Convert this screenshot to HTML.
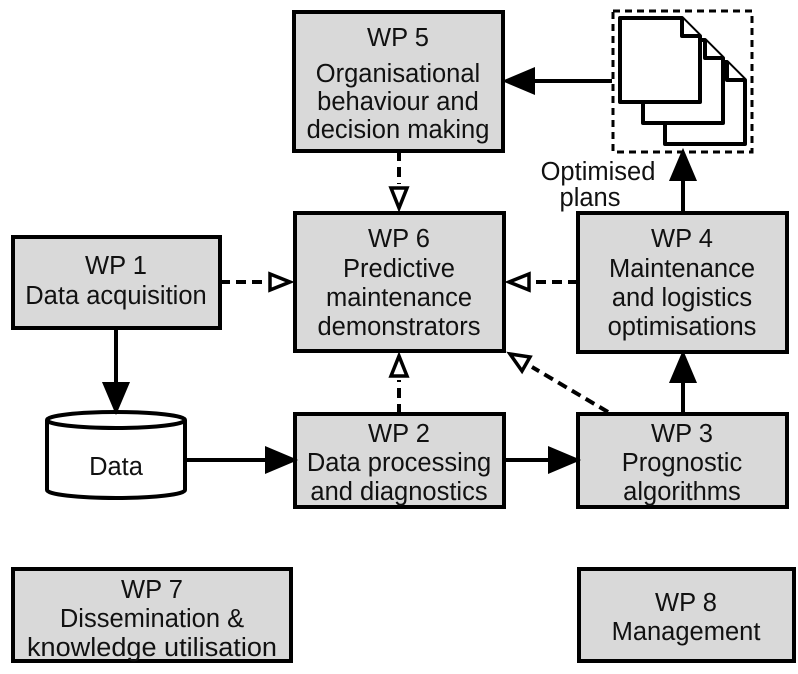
<!DOCTYPE html>
<html><head><meta charset="utf-8"><style>html,body{margin:0;padding:0;background:#fff}svg{display:block}</style></head><body>
<svg width="798" height="674" viewBox="0 0 798 674" xmlns="http://www.w3.org/2000/svg" font-family="Liberation Sans, sans-serif" font-size="25.5" text-anchor="middle">
<g stroke="#000" stroke-width="4" fill="#d9d9d9">
<rect x="13" y="237" width="207" height="91"/>
<rect x="294" y="12" width="209" height="139"/>
<rect x="295" y="213" width="209" height="138"/>
<rect x="295" y="414" width="209" height="93"/>
<rect x="578" y="213" width="209" height="139"/>
<rect x="578" y="414" width="209" height="93"/>
<rect x="13" y="569" width="278" height="92"/>
<rect x="579" y="569" width="215" height="92"/>
</g>
<g stroke="#000" stroke-width="4" fill="#fff">
<path d="M47,420 L47,490 A69,8 0 0 0 185,490 L185,420"/>
<ellipse cx="116" cy="420" rx="69" ry="8"/>
</g>
<rect x="613" y="11" width="139" height="141" fill="none" stroke="#000" stroke-width="3" stroke-dasharray="7,5"/>
<g stroke="#000" stroke-width="4" fill="#fff" stroke-linejoin="round">
<path d="M665,62 L727,62 L745,80 L745,144 L665,144 Z"/><path d="M727,62 L727,80 L745,80"/>
<path d="M643,40 L705,40 L723,58 L723,123 L643,123 Z"/><path d="M705,40 L705,58 L723,58"/>
<path d="M620,18 L682,18 L700,36 L700,102 L620,102 Z"/><path d="M682,18 L682,36 L700,36"/>
</g>
<g stroke="#000" stroke-width="4" fill="#000">
<line x1="612" y1="81" x2="530" y2="81"/><path d="M507,81 L533,70 L533,92 z"/>
<line x1="683" y1="213" x2="683" y2="175"/><path d="M683,153 L672,179 L694,179 z"/>
<line x1="683" y1="414" x2="683" y2="378"/><path d="M683,355 L672,381 L694,381 z"/>
<line x1="116" y1="328" x2="116" y2="385"/><path d="M116,410 L105,384 L127,384 z"/>
<line x1="187" y1="460" x2="270" y2="460"/><path d="M293,460 L267,449 L267,471 z"/>
<line x1="504" y1="460" x2="553" y2="460"/><path d="M576,460 L550,449 L550,471 z"/>
</g>
<g stroke="#000" stroke-width="4" fill="none">
<line x1="220" y1="282" x2="268" y2="282" stroke-dasharray="10,6"/>
<path d="M290,282 L270,274 L270,290 z" fill="#fff" stroke-width="3.5"/>
<line x1="399" y1="151" x2="399" y2="184" stroke-dasharray="10,6"/>
<path d="M399,208 L391,188 L407,188 z" fill="#fff" stroke-width="3.5"/>
<line x1="399" y1="414" x2="399" y2="380" stroke-dasharray="10,6"/>
<path d="M399,356 L391,376 L407,376 z" fill="#fff" stroke-width="3.5"/>
<line x1="578" y1="282" x2="532" y2="282" stroke-dasharray="10,6"/>
<path d="M509,282 L529,274 L529,290 z" fill="#fff" stroke-width="3.5"/>
<line x1="608" y1="412" x2="532" y2="367" stroke-dasharray="10,6"/>
<path d="M510,354 L522,371 L530,357 z" fill="#fff" stroke-width="3.5"/>
</g>
<g fill="#111">
<text x="116" y="274">WP 1</text><text x="116" y="304">Data acquisition</text>
<text x="398" y="46">WP 5</text><text x="398" y="82">Organisational</text><text x="398" y="110">behaviour and</text><text x="398" y="138">decision making</text>
<text x="399" y="247">WP 6</text><text x="399" y="277">Predictive</text><text x="399" y="306">maintenance</text><text x="399" y="335">demonstrators</text>
<text x="399" y="442">WP 2</text><text x="399" y="471">Data processing</text><text x="399" y="500">and diagnostics</text>
<text x="682" y="247">WP 4</text><text x="682" y="277">Maintenance</text><text x="682" y="306">and logistics</text><text x="682" y="335">optimisations</text>
<text x="682" y="442">WP 3</text><text x="682" y="471">Prognostic</text><text x="682" y="500">algorithms</text>
<text x="152" y="598">WP 7</text><text x="152" y="627">Dissemination &amp;</text><text x="152" y="656" textLength="250" lengthAdjust="spacingAndGlyphs">knowledge utilisation</text>
<text x="686" y="611">WP 8</text><text x="686" y="640">Management</text>
<text x="116" y="475">Data</text>
<text x="598" y="180">Optimised</text><text x="590" y="206">plans</text>
</g>
</svg>
</body></html>
